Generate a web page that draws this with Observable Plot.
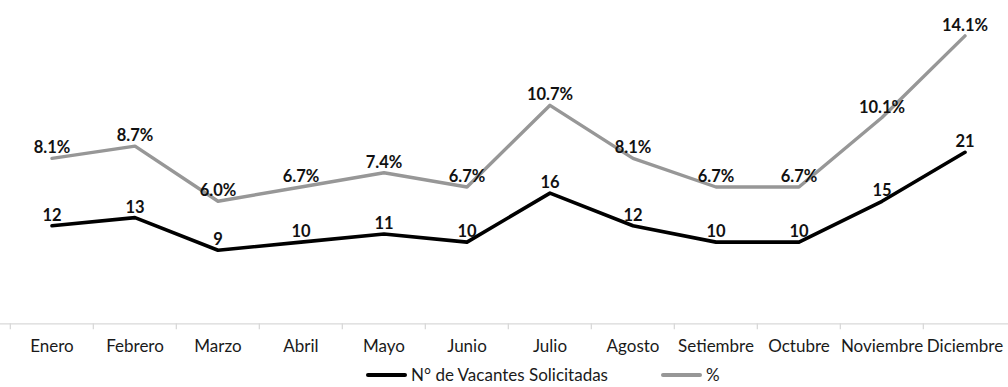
<!DOCTYPE html>
<html>
<head>
<meta charset="utf-8">
<script src="https://cdn.jsdelivr.net/npm/d3@7"></script>
<script src="https://cdn.jsdelivr.net/npm/@observablehq/plot@0.6"></script>
<style>
  html, body { margin: 0; padding: 0; background: #fff; }
  #chart { width: 1008px; height: 387px; position: relative; overflow: hidden; font-family: Lato, sans-serif; }
  #legend { position: absolute; left: 366px; top: 366px; height: 18px; display: flex; align-items: center; font-family: Lato, sans-serif; font-size: 17px; line-height: 18px; color: #1a1a1a; }
  .item { display: flex; align-items: center; }
  .item span { line-height: 18px; }
  .swatch { width: 41px; height: 4px; border-radius: 2px; margin-right: 4px; }
</style>
</head>
<body>
<div id="chart"></div>
<script>
const months = ["Enero","Febrero","Marzo","Abril","Mayo","Junio","Julio","Agosto","Setiembre","Octubre","Noviembre","Diciembre"];
const vacantes = [12, 13, 9, 10, 11, 10, 16, 12, 10, 10, 15, 21];
const porcentaje = [8.1, 8.7, 6.0, 6.7, 7.4, 6.7, 10.7, 8.1, 6.7, 6.7, 10.1, 14.1];
const seriesNames = ["N° de Vacantes Solicitadas", "%"];
const seriesColors = ["#000000", "#979797"];

const primaryMax = 40;     // left (hidden) axis max
const secondaryMax = 16;   // right (hidden) axis max, in %
const ratio = primaryMax / secondaryMax;

const data = months.map((m, i) => ({month: m, n: vacantes[i], pct: porcentaje[i]}));
const step = 1000 / months.length;

const plot = Plot.plot({
  width: 1008,
  height: 362,
  marginTop: 0, marginBottom: 0, marginLeft: 0, marginRight: 0,
  style: {fontFamily: "Lato, sans-serif", background: "transparent"},
  x: {type: "band", domain: months, range: [8.3, 1008.3], padding: 0},
  y: {domain: [0, primaryMax], range: [323.3, -3.4], axis: null},
  marks: [
    Plot.ruleY([0], {stroke: "#d9d9d9", strokeWidth: 1.3}),
    Plot.ruleX(data, {x: "month", dx: -step / 2, y1: () => 0, y2: () => 0, stroke: "#d9d9d9", strokeWidth: 1.3, insetBottom: -6}),
    Plot.axisX({tickSize: 0, tickPadding: 16, fontSize: 17, fill: "#1a1a1a", label: null, anchor: "bottom", y: 0}),
    Plot.line(data, {x: "month", y: d => d.pct * ratio, stroke: seriesColors[1], strokeWidth: 3.4, strokeLinejoin: "round", strokeLinecap: "round"}),
    Plot.line(data, {x: "month", y: "n", stroke: seriesColors[0], strokeWidth: 3.6, strokeLinejoin: "round", strokeLinecap: "round"}),
    Plot.text(data, {x: "month", y: d => d.pct * ratio, text: d => d.pct.toFixed(1) + "%", lineAnchor: "bottom", dy: -5, fontSize: 16.5, fontWeight: "bold", fill: "#111"}),
    Plot.text(data, {x: "month", y: "n", text: d => String(d.n), lineAnchor: "bottom", dy: -5, fontSize: 16.5, fontWeight: "bold", fill: "#111"})
  ]
});
document.getElementById("chart").appendChild(plot);

const legend = document.createElement("div");
legend.id = "legend";
seriesNames.forEach((name, i) => {
  const item = document.createElement("div");
  item.className = "item";
  if (i > 0) item.style.marginLeft = "53px";
  const sw = document.createElement("div");
  sw.className = "swatch";
  sw.style.background = seriesColors[i];
  const lab = document.createElement("span");
  lab.textContent = name;
  item.appendChild(sw); item.appendChild(lab);
  legend.appendChild(item);
});
document.getElementById("chart").appendChild(legend);
</script>
</body>
</html>
